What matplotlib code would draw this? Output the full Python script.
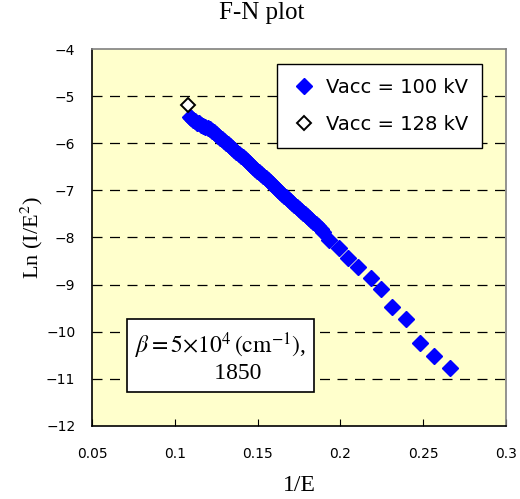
import matplotlib.pyplot as plt

# F-N data, 1/E vs Ln(I/E^2)
inv_e_100 = [0.1090, 0.1100, 0.1110, 0.1122, 0.1135, 0.1148, 0.1160, 0.1172,
             0.1185, 0.1198, 0.1210, 0.1222, 0.1235, 0.1248, 0.1260, 0.1272,
             0.1285, 0.1298, 0.1310, 0.1322, 0.1335, 0.1348, 0.1360, 0.1372,
             0.1385, 0.1398, 0.1410, 0.1422, 0.1435, 0.1448, 0.1460, 0.1472,
             0.1485, 0.1498, 0.1510, 0.1522, 0.1535, 0.1548, 0.1560, 0.1572,
             0.1585, 0.1598, 0.1610, 0.1622, 0.1635, 0.1648, 0.1660, 0.1672,
             0.1685, 0.1698, 0.1710, 0.1722, 0.1735, 0.1748, 0.1760, 0.1772,
             0.1785, 0.1798, 0.1810, 0.1822, 0.1837, 0.1850, 0.1865, 0.1880,
             0.1897, 0.1933, 0.1993, 0.2044, 0.2104, 0.2185, 0.2243, 0.2312,
             0.2396, 0.2481, 0.2567, 0.2662]
ln_100 = [-5.44, -5.47, -5.50, -5.53, -5.56, -5.58, -5.61, -5.64,
          -5.66, -5.68, -5.70, -5.73, -5.77, -5.80, -5.84, -5.88,
          -5.92, -5.95, -5.99, -6.02, -6.06, -6.10, -6.14, -6.18,
          -6.22, -6.26, -6.30, -6.34, -6.38, -6.42, -6.46, -6.50,
          -6.54, -6.58, -6.62, -6.66, -6.70, -6.74, -6.78, -6.82,
          -6.87, -6.91, -6.95, -6.99, -7.03, -7.07, -7.11, -7.15,
          -7.19, -7.23, -7.27, -7.31, -7.35, -7.39, -7.43, -7.47,
          -7.51, -7.54, -7.58, -7.62, -7.67, -7.71, -7.76, -7.81,
          -7.88, -8.06, -8.23, -8.44, -8.62, -8.87, -9.10, -9.47,
          -9.72, -10.24, -10.52, -10.77]

inv_e_128 = [0.1078]
ln_128 = [-5.19]

x_ticks = [0.05, 0.1, 0.15, 0.2, 0.25, 0.3]
y_ticks = [-12, -11, -10, -9, -8, -7, -6, -5, -4]

plt.rcParams['mathtext.fontset'] = 'stix'

fig = plt.figure(figsize=(5.2, 4.99), dpi=100)
ax = fig.add_axes([0.177, 0.1463, 0.796, 0.7555])
ax.set_facecolor('#FFFFCC')

ax.plot(inv_e_100, ln_100, 'D', color='#0000FF', ms=8.5, mec='#0000FF',
        label='Vacc = 100 kV', zorder=3)
ax.plot(inv_e_128, ln_128, 'D', mfc='white', mec='black', mew=1.4, ms=7,
        label='Vacc = 128 kV', zorder=4)

ax.set_xlim(0.05, 0.3)
ax.set_ylim(-12, -4)
ax.set_xticks(x_ticks)
ax.set_xticklabels(['0.05', '0.1', '0.15', '0.2', '0.25', '0.3'])
ax.set_yticks(y_ticks)
ax.set_yticklabels(['\u2212%d' % abs(v) for v in y_ticks])

for v in y_ticks[1:-1]:
    ax.axhline(v, color='black', lw=0.9, ls=(0, (8, 6)), zorder=1)

ax.tick_params(axis='x', direction='in', length=5, pad=15, labelsize=10)
ax.tick_params(axis='y', length=0, pad=12, labelsize=10)

for side in ['left', 'bottom']:
    ax.spines[side].set_color('black')
    ax.spines[side].set_linewidth(1.2)
for side in ['top', 'right']:
    ax.spines[side].set_color('#808080')
    ax.spines[side].set_linewidth(1.2)

fig.text(0.503, 0.973, 'F-N plot', family='Liberation Serif', fontsize=18,
         ha='center', va='center')
ax.set_xlabel('1/E', family='Liberation Serif', fontsize=17, labelpad=10)
ax.set_ylabel('Ln (I/E$^2$)', family='Liberation Serif', fontsize=16, labelpad=1)

leg = ax.legend(loc='upper right', bbox_to_anchor=(0.942, 0.960), fontsize=14,
                frameon=True, fancybox=False, edgecolor='black',
                borderaxespad=0, handletextpad=0.5, borderpad=0.7,
                labelspacing=0.95, handlelength=1.3)
leg.get_frame().set_linewidth(1.0)
leg.get_frame().set_alpha(1)

ax.text(0.31, 0.183, '$\\beta = 5{\\times}10^4\\,(\\mathrm{cm}^{-1})$,\n      1850',
        transform=ax.transAxes, ha='center', va='center', fontsize=17,
        family='Liberation Serif', linespacing=1.15,
        bbox=dict(boxstyle='square,pad=0.35', fc='white', ec='black', lw=1.2))

fig.savefig('out.png', dpi=100)
